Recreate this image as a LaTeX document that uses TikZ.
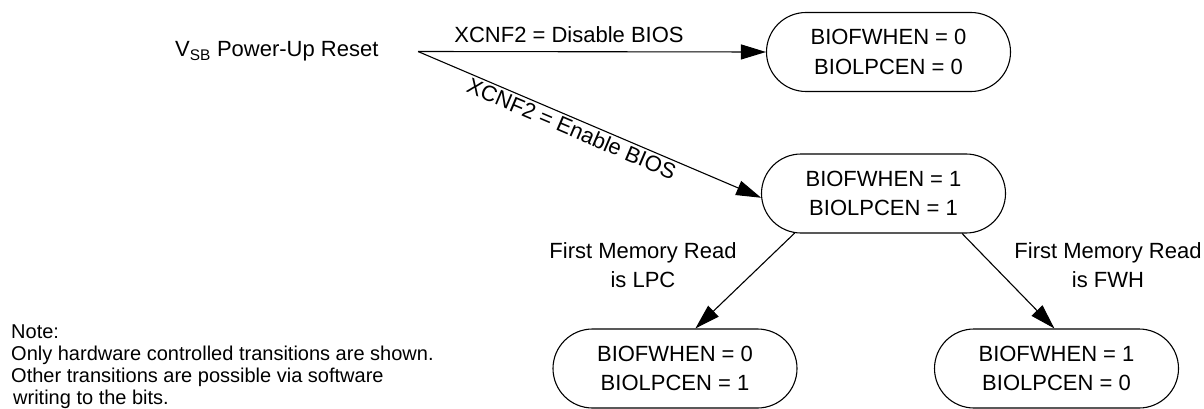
\documentclass[tikz,border=0pt]{standalone}
\usepackage{fontspec}
\setmainfont{Liberation Sans}
\usetikzlibrary{shapes.misc,arrows.meta}
\begin{document}
\begin{tikzpicture}[x=1pt,y=-1pt,
  state/.style={rounded rectangle, draw, line width=1.1pt, minimum width=244pt,
    minimum height=79pt, inner sep=0pt, align=center,
    font=\fontsize{22}{29.5}\selectfont},
  lbl/.style={inner sep=0pt, font=\fontsize{22}{29.5}\selectfont},
  notetext/.style={inner sep=0pt, align=left, font=\fontsize{20}{22}\selectfont},
  arr/.style={line width=1.1pt, -{Triangle[length=25pt,width=15pt]}},
]
\useasboundingbox (0,0) rectangle (1204,409);
% states
\node[state] (n0) at (888.5,52) {BIOFWHEN = 0\\BIOLPCEN = 0};
\node[state] (n1) at (883.5,193.5) {BIOFWHEN = 1\\BIOLPCEN = 1};
\node[state] (n2) at (675,368.5) {BIOFWHEN = 0\\BIOLPCEN = 1};
\node[state] (n3) at (1056.5,368.5) {BIOFWHEN = 1\\BIOLPCEN = 0};
% source
\node[lbl, anchor=base west] (vsb) at (175,57) {V\textsubscript{SB} Power-Up Reset};
\coordinate (s) at (418,51.5);
% labels
\node[lbl, anchor=base] (ldis) at (569,43) {XCNF2 = Disable BIOS};
\node[lbl, align=center] (llpc) at (643,265) {First Memory Read\\is LPC};
\node[lbl, align=center] (lfwh) at (1108,265) {First Memory Read\\is FWH};
% connectors
\draw[arr] (s) -- (n0.west);
\draw[arr] (s) -- node[lbl, sloped, below=2pt, pos=0.46] (len) {XCNF2 = Enable BIOS} (n1.182);
\draw[arr] (n1.204) -- (n2.63);
\draw[arr] (n1.333) -- (n3.93);
% note
\node[notetext, anchor=north west] (note) at (11,324.5)
  {Note:\\Only hardware controlled transitions are shown.\\Other transitions are possible via software\\\hspace*{2pt}writing to the bits.};
\end{tikzpicture}
\end{document}
